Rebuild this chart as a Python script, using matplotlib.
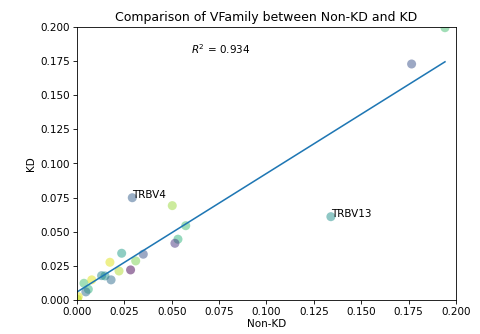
import numpy as np
import matplotlib
matplotlib.use("Agg")
import matplotlib.pyplot as plt

# values
non_kd = [0.1942, 0.1766, 0.1340, 0.0292, 0.0503, 0.0574, 0.0533, 0.0517, 0.0350, 0.0310,
          0.0283, 0.0236, 0.0174, 0.0222, 0.0130, 0.0148, 0.0180, 0.0037, 0.0078, 0.0060,
          0.0047, 0.0007, 0.0002]
kd = [0.1995, 0.1729, 0.0610, 0.0749, 0.0691, 0.0544, 0.0445, 0.0415, 0.0335, 0.0286,
      0.0220, 0.0342, 0.0276, 0.0212, 0.0178, 0.0176, 0.0147, 0.0122, 0.0147, 0.0078,
      0.0059, 0.0024, 0.0005]
color_vals = [0.70, 0.25, 0.50, 0.30, 0.85, 0.70, 0.65, 0.15, 0.25, 0.80,
              0.00, 0.55, 0.95, 0.88, 0.45, 0.50, 0.35, 0.70, 0.95, 0.65,
              0.35, 0.95, 0.90]
labels = {3: "TRBV4", 2: "TRBV13"}
r2_text = r"$R^2$ = 0.934"

fig = plt.figure(figsize=(6.4, 4.445), dpi=75.15)
ax = fig.add_axes([0.160, 0.102, 0.788, 0.817])

ax.scatter(non_kd, kd, c=color_vals, cmap="viridis", vmin=0, vmax=1, s=75,
           alpha=0.5, linewidths=0)
for i, name in labels.items():
    ax.annotate(name, (non_kd[i], kd[i]))

# least-squares fit line
slope, icpt = np.polyfit(non_kd, kd, 1)
xs = np.array([0, max(non_kd)])
ax.plot(xs, slope * xs + icpt, color="C0", lw=1.5)

ax.text(0.06, 0.18, r2_text)
ax.set_xlim(0, 0.2); ax.set_ylim(0, 0.2)
ax.set_xlabel("Non-KD", labelpad=2)
ax.set_ylabel("KD")
ax.set_title("Comparison of VFamily between Non-KD and KD")

fig.savefig("out.png", dpi=75.15)
